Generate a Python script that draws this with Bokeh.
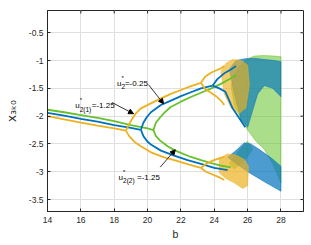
from bokeh.plotting import figure
from bokeh.models import Range1d, Label, Arrow, NormalHead, FixedTicker
from bokeh.embed import file_html
from bokeh.resources import INLINE

# ---------------- data ----------------
x_ticks = [14, 16, 18, 20, 22, 24, 26, 28]
x_tick_labels = ["14", "16", "18", "20", "22", "24", "26", "28"]
y_ticks = [-3.5, -3, -2.5, -2, -1.5, -1, -0.5]
y_tick_labels = ["-3.5", "-3", "-2.5", "-2", "-1.5", "-1", "-0.5"]

ORANGE = "#EDB120"
BLUE = "#0072BD"
GREEN = "#66C22A"

# period-1 branches
orange_p1_b = [14, 15, 16, 17, 18, 18.7]
orange_p1_y = [-2.0, -2.06, -2.115, -2.17, -2.22, -2.26]
blue_p1_b = [14, 15, 16, 17, 18, 19, 19.6]
blue_p1_y = [-1.94, -1.99, -2.05, -2.10, -2.16, -2.21, -2.245]
green_p1_b = [14, 15, 16, 17, 18, 19, 20, 20.35]
green_p1_y = [-1.885, -1.93, -1.98, -2.03, -2.09, -2.16, -2.22, -2.25]

# period-2 branches
orange_up_b = [18.7, 18.9, 19.1, 19.3, 19.6, 20.2, 20.8, 21.4, 22.0, 22.6, 23.2]
orange_up_y = [-2.26, -2.14, -2.04, -1.95, -1.86, -1.77, -1.68, -1.60, -1.53, -1.46, -1.40]
orange_lo_b = [18.7, 18.9, 19.2, 19.6, 20.2, 21.0, 21.7, 22.5, 23.2]
orange_lo_y = [-2.26, -2.36, -2.46, -2.54, -2.65, -2.74, -2.80, -2.87, -2.93]
blue_up_b = [19.6, 19.75, 19.95, 20.2, 20.8, 21.4, 22.0, 22.6, 23.2, 23.9]
blue_up_y = [-2.245, -2.12, -2.02, -1.93, -1.80, -1.72, -1.64, -1.57, -1.50, -1.45]
blue_lo_b = [19.6, 19.75, 20.0, 20.2, 20.8, 21.6, 22.4, 23.2, 24.0, 24.8]
blue_lo_y = [-2.245, -2.36, -2.46, -2.51, -2.62, -2.71, -2.79, -2.86, -2.93, -2.97]
green_up_b = [20.35, 20.5, 20.76, 21.0, 21.36, 22.0, 22.56, 23.2, 23.76, 24.4, 25.0, 25.3]
green_up_y = [-2.25, -2.12, -2.02, -1.94, -1.84, -1.74, -1.66, -1.58, -1.51, -1.42, -1.32, -1.26]
green_lo_b = [20.35, 20.5, 20.76, 21.2, 21.66, 22.56, 23.2, 23.76, 24.4, 25.0]
green_lo_y = [-2.25, -2.36, -2.44, -2.54, -2.62, -2.73, -2.79, -2.84, -2.89, -2.92]

# period-4 branches
orange_4a_b = [23.2, 23.45, 23.8, 24.1, 24.4, 24.6]
orange_4a_y = [-1.40, -1.29, -1.22, -1.18, -1.14, -1.10]
orange_4b_b = [23.2, 23.45, 23.8, 24.1, 24.4, 24.6]
orange_4b_y = [-1.40, -1.51, -1.58, -1.64, -1.72, -1.80]
orange_4c_b = [23.2, 23.5, 23.9, 24.3, 24.6]
orange_4c_y = [-2.93, -2.86, -2.80, -2.76, -2.73]
orange_4d_b = [23.2, 23.5, 23.9, 24.3, 24.6]
orange_4d_y = [-2.93, -3.00, -3.05, -3.10, -3.15]
blue_4a_b = [23.9, 24.2, 24.6, 25.0, 25.3]
blue_4a_y = [-1.45, -1.33, -1.23, -1.16, -1.10]
blue_4b_b = [23.9, 24.3, 24.66, 24.9, 25.1, 25.5, 25.86]
blue_4b_y = [-1.45, -1.50, -1.56, -1.72, -1.86, -2.04, -2.20]

# chaotic bands (outlines of the dense point clouds)
green_cloud_b = [25.0, 25.4, 25.9, 26.4, 27.0, 27.6, 28.0, 28.0, 27.5, 27.0, 26.5, 26.0, 25.6, 25.2]
green_cloud_y = [-1.45, -1.15, -0.98, -0.92, -0.91, -0.92, -0.93, -3.2, -2.85, -2.6, -2.45, -2.25, -2.05, -1.8]
green_cloud2_b = [24.9, 25.5, 26.0, 26.3, 25.8, 25.2]
green_cloud2_y = [-2.85, -2.62, -2.45, -2.6, -2.8, -2.95]
blue_cloud_b = [24.9, 25.3, 25.8, 26.4, 27.0, 27.6, 28.0, 28.0, 27.5, 27.0, 26.6, 26.3, 26.0, 25.6, 25.2]
blue_cloud_y = [-1.15, -1.0, -0.97, -0.96, -0.98, -1.0, -1.02, -1.65, -1.5, -1.45, -1.6, -1.9, -2.2, -2.05, -1.6]
blue_cloud2_b = [24.8, 25.3, 25.8, 26.2, 26.8, 27.4, 28.0, 28.0, 27.0, 26.0, 25.2]
blue_cloud2_y = [-2.74, -2.62, -2.48, -2.5, -2.62, -2.75, -2.9, -3.35, -3.18, -3.0, -2.83]
orange_cloud_b = [24.4, 24.7, 25.1, 25.6, 26.0, 26.1, 25.9, 25.5, 25.0, 24.6]
orange_cloud_y = [-1.2, -1.05, -0.98, -1.0, -1.08, -1.45, -1.85, -1.95, -1.85, -1.6]
orange_cloud2_b = [24.3, 24.8, 25.3, 25.8, 26.05, 26.0, 25.7, 25.2, 24.7, 24.3]
orange_cloud2_y = [-2.76, -2.68, -2.70, -2.78, -2.9, -3.25, -3.3, -3.2, -3.12, -3.02]

FONT = "Liberation Sans"
AX = "#262626"

X0, X1 = 14, 29.35
Y0, Y1 = -3.715, -0.1
FW, FH = 256, 201

p = figure(width=310, height=244, output_backend="svg", toolbar_location=None,
           x_range=Range1d(X0, X1), y_range=Range1d(Y0, Y1),
           min_border_left=47, min_border_right=7, min_border_top=10, min_border_bottom=33)
p.outline_line_color = AX
p.background_fill_color = "white"

for ax in (p.xaxis[0], p.yaxis[0]):
    ax.major_tick_in = 3
    ax.major_tick_out = 0
    ax.minor_tick_in = 0
    ax.minor_tick_out = 0
    ax.axis_line_color = AX
    ax.major_tick_line_color = AX
    ax.major_label_text_font = FONT
    ax.major_label_text_font_size = "8.5px"
    ax.major_label_text_color = AX
    ax.axis_label_text_font_style = "normal"
    ax.axis_label_text_color = AX
p.xaxis.ticker = FixedTicker(ticks=x_ticks)
p.yaxis.ticker = FixedTicker(ticks=y_ticks)
p.xaxis.major_label_overrides = dict(zip(x_ticks, x_tick_labels))
p.yaxis.major_label_overrides = dict(zip(y_ticks, y_tick_labels))
p.xaxis.major_label_standoff = 5
p.yaxis.major_label_standoff = 4
p.xaxis.axis_label = "b"
p.xaxis.axis_label_text_font = FONT
p.xaxis.axis_label_text_font_size = "10.5px"
p.xaxis.axis_label_standoff = 2
p.yaxis.axis_label = "x\u2083\u2096\u2080"
p.yaxis.axis_label_text_font = "DejaVu Sans"
p.yaxis.axis_label_text_font_size = "12px"
p.yaxis.axis_label_standoff = 7

p.xgrid.ticker = FixedTicker(ticks=x_ticks)
p.ygrid.ticker = FixedTicker(ticks=y_ticks)
p.grid.grid_line_color = "#dfdfdf"

# inward ticks on the top and right edges of the box (3 px long)
dy = 3 * (Y1 - Y0) / FH
dx = 3 * (X1 - X0) / FW
p.segment(x0=x_ticks, y0=[Y1] * len(x_ticks), x1=x_ticks, y1=[Y1 - dy] * len(x_ticks),
          line_color=AX, line_width=1)
p.segment(x0=[X1] * len(y_ticks), y0=y_ticks, x1=[X1 - dx] * len(y_ticks), y1=y_ticks,
          line_color=AX, line_width=1)

# clouds
for bb, yy, c, al in ((green_cloud_b, green_cloud_y, GREEN, 0.55),
                      (green_cloud2_b, green_cloud2_y, GREEN, 0.55),
                      (blue_cloud_b, blue_cloud_y, BLUE, 0.65),
                      (blue_cloud2_b, blue_cloud2_y, BLUE, 0.7),
                      (orange_cloud_b, orange_cloud_y, ORANGE, 0.65),
                      (orange_cloud2_b, orange_cloud2_y, ORANGE, 0.7)):
    p.patch(bb, yy, fill_color=c, fill_alpha=al, line_color=c, line_alpha=0.5, line_width=1)

# branches
lines = [
    (green_p1_b, green_p1_y, GREEN), (green_up_b, green_up_y, GREEN), (green_lo_b, green_lo_y, GREEN),
    (blue_p1_b, blue_p1_y, BLUE), (blue_up_b, blue_up_y, BLUE), (blue_lo_b, blue_lo_y, BLUE),
    (blue_4a_b, blue_4a_y, BLUE), (blue_4b_b, blue_4b_y, BLUE),
    (orange_p1_b, orange_p1_y, ORANGE), (orange_up_b, orange_up_y, ORANGE), (orange_lo_b, orange_lo_y, ORANGE),
    (orange_4a_b, orange_4a_y, ORANGE), (orange_4b_b, orange_4b_y, ORANGE),
    (orange_4c_b, orange_4c_y, ORANGE), (orange_4d_b, orange_4d_y, ORANGE),
]
for bb, yy, c in lines:
    p.line(bb, yy, line_color=c, line_width=1.8)

# annotations
def ann(b0, y0, sub, rest, sub_w):
    p.add_layout(Label(x=b0, y=y0, text="u", text_font=FONT, text_font_size="8px",
                       text_color="black", text_baseline="alphabetic"))
    p.add_layout(Label(x=b0, y=y0, x_offset=4.5, y_offset=5.5, text="*", text_font=FONT,
                       text_font_size="6px", text_color="black", text_baseline="alphabetic"))
    p.add_layout(Label(x=b0, y=y0, x_offset=4.5, y_offset=-3.5, text=sub, text_font=FONT,
                       text_font_size="6.5px", text_color="black", text_baseline="alphabetic"))
    p.add_layout(Label(x=b0, y=y0, x_offset=4.5 + sub_w, text=rest, text_font=FONT,
                       text_font_size="8px", text_color="black", text_baseline="alphabetic"))

ann(18.163, -1.412, "2", "=-0.25", 3.5)
ann(15.662, -1.8165, "2(1)", "=-1.25", 12.0)
ann(18.259, -3.1025, "2(2)", "=-1.25", 14.0)

for xs, ys, xe, ye in ((20.059, -1.435, 20.959, -1.777),
                       (17.863, -1.754, 19.159, -1.957),
                       (20.761, -2.917, 21.661, -2.604)):
    p.add_layout(Arrow(end=NormalHead(size=5, fill_color="black", line_color="black"),
                       x_start=xs, y_start=ys, x_end=xe, y_end=ye,
                       line_color="black", line_width=0.8))

open("out.html", "w").write(file_html(p, INLINE))
